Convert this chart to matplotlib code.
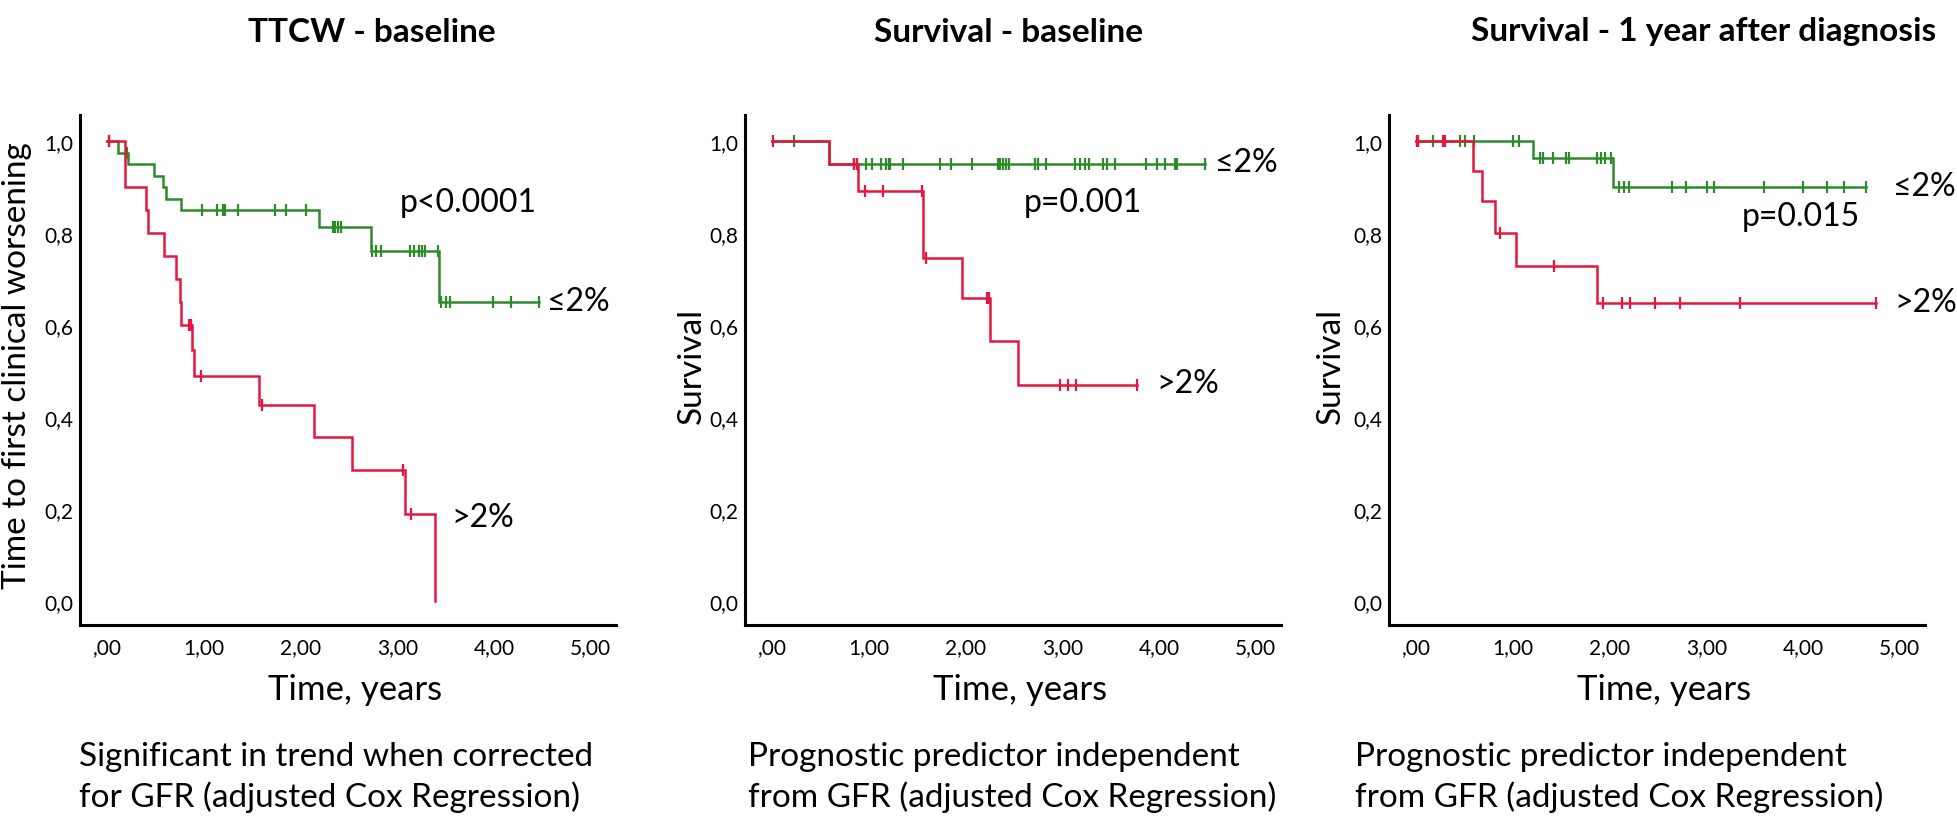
import matplotlib
matplotlib.use("Agg")
import matplotlib.pyplot as plt
import numpy as np

GREEN = "#2e8b2b"
RED = "#e5163f"

# ---- panel 1: TTCW - baseline ----
ttcw_low_times = [0.0, 0.11, 0.22, 0.48, 0.58, 0.61, 0.76, 2.19, 2.73, 3.43]
ttcw_low_surv = [1.0, 0.975, 0.95, 0.925, 0.90, 0.875, 0.85, 0.813, 0.761, 0.651]
ttcw_low_censor = [0.02, 0.21, 0.98, 1.14, 1.20, 1.22, 1.35, 1.74, 1.85, 2.06,
                   2.33, 2.36, 2.39, 2.42, 2.74, 2.78, 2.83, 3.13, 3.17, 3.22,
                   3.26, 3.29, 3.42, 3.45, 3.50, 3.54, 3.99, 4.17, 4.46]
ttcw_low_end = 4.46

ttcw_high_times = [0.0, 0.18, 0.40, 0.42, 0.59, 0.71, 0.75, 0.76, 0.88, 0.90,
                   1.57, 2.14, 2.53, 3.08, 3.39]
ttcw_high_surv = [1.0, 0.90, 0.85, 0.80, 0.75, 0.70, 0.65, 0.60, 0.545, 0.49,
                  0.427, 0.356, 0.284, 0.19, 0.0]
ttcw_high_censor = [0.02, 0.85, 0.87, 0.97, 1.60, 3.06, 3.14]
ttcw_high_end = 3.39

# ---- panel 2: Survival - baseline ----
surv_low_times = [0.0, 0.59]
surv_low_surv = [1.0, 0.951]
surv_low_censor = [0.23, 0.85, 0.88, 0.97, 1.03, 1.13, 1.18, 1.21, 1.22, 1.35,
                   1.74, 1.85, 2.07, 2.33, 2.36, 2.39, 2.42, 2.45, 2.72, 2.75,
                   2.83, 3.13, 3.18, 3.23, 3.28, 3.42, 3.46, 3.54, 3.86, 3.98,
                   4.06, 4.16, 4.18, 4.47]
surv_low_end = 4.47

surv_high_times = [0.0, 0.59, 0.89, 1.56, 1.96, 2.25, 2.54]
surv_high_surv = [1.0, 0.951, 0.891, 0.745, 0.66, 0.565, 0.47]
surv_high_censor = [0.01, 0.85, 0.88, 0.96, 1.15, 1.55, 1.59, 2.22, 2.24,
                    2.98, 3.06, 3.14, 3.77]
surv_high_end = 3.77

# ---- panel 3: Survival - 1 year after diagnosis ----
year1_low_times = [0.0, 1.21, 2.04]
year1_low_surv = [1.0, 0.964, 0.90]
year1_low_censor = [0.01, 0.17, 0.29, 0.45, 0.51, 0.60, 1.0, 1.06, 1.28, 1.31,
                    1.42, 1.55, 1.58, 1.87, 1.91, 1.95, 2.01, 2.10, 2.15, 2.20,
                    2.65, 2.79, 3.01, 3.08, 3.60, 4.0, 4.25, 4.42, 4.65]
year1_low_end = 4.65

year1_high_times = [0.0, 0.59, 0.68, 0.82, 1.03, 1.87]
year1_high_surv = [1.0, 0.935, 0.869, 0.80, 0.729, 0.649]
year1_high_censor = [0.01, 0.02, 0.28, 0.30, 0.87, 1.43, 1.93, 2.13, 2.21,
                     2.47, 2.73, 3.35, 4.75]
year1_high_end = 4.75

titles = ["TTCW - baseline", "Survival - baseline",
          "Survival - 1 year after diagnosis"]
ylabels = ["Time to first clinical worsening", "Survival", "Survival"]
p_values = ["p<0.0001", "p=0.001", "p=0.015"]
captions = [["Significant in trend when corrected", "for GFR (adjusted Cox Regression)"],
            ["Prognostic predictor independent", "from GFR (adjusted Cox Regression)"],
            ["Prognostic predictor independent", "from GFR (adjusted Cox Regression)"]]
x_ticks = [0, 1, 2, 3, 4, 5]
x_tick_labels = [",00", "1,00", "2,00", "3,00", "4,00", "5,00"]
y_ticks = [0.0, 0.2, 0.4, 0.6, 0.8, 1.0]
y_tick_labels = ["0,0", "0,2", "0,4", "0,6", "0,8", "1,0"]

# label placement (data coords): p-value, <=2%, >2%
label_pos = [
    [(3.02, 0.867), (4.55, 0.652), (3.56, 0.183)],
    [(2.60, 0.867), (4.58, 0.954), (3.97, 0.474)],
    [(3.37, 0.837), (4.93, 0.902), (4.94, 0.650)],
]

TEXT_FONT = ["Lato", "DejaVu Sans"]

W, H = 1958, 820


def draw_km(ax, times, surv, censor, end, color):
    xs = list(times) + [end]
    ys = list(surv) + [surv[-1]]
    ax.step(xs, ys, where="post", color=color, lw=1.8, solid_joinstyle="miter")
    t = np.asarray(times)
    idx = np.searchsorted(t, censor, side="right") - 1
    cy = np.asarray(surv)[idx]
    ax.plot(censor, cy, ls="none", marker="|", ms=9, mew=1.6, color=color)


panels = [
    [(ttcw_low_times, ttcw_low_surv, ttcw_low_censor, ttcw_low_end),
     (ttcw_high_times, ttcw_high_surv, ttcw_high_censor, ttcw_high_end)],
    [(surv_low_times, surv_low_surv, surv_low_censor, surv_low_end),
     (surv_high_times, surv_high_surv, surv_high_censor, surv_high_end)],
    [(year1_low_times, year1_low_surv, year1_low_censor, year1_low_end),
     (year1_high_times, year1_high_surv, year1_high_censor, year1_high_end)],
]

fig = plt.figure(figsize=(W / 100, H / 100), dpi=100)

axes_left = [80, 745, 1389]
title_x = [372, 1009, 1704]
ylabel_x = [17, 692, 1331]
caption_x = [79, 748, 1355]
ax_top, ax_bottom, ax_width = 116, 626, 536

for i in range(3):
    ax = fig.add_axes([axes_left[i] / W, (H - ax_bottom) / H,
                       ax_width / W, (ax_bottom - ax_top) / H])
    low, high = panels[i]
    draw_km(ax, *low, GREEN)
    draw_km(ax, *high, RED)

    ax.set_xlim(-0.28, 5.26)
    ax.set_ylim(-0.052, 1.057)
    for side in ("top", "right"):
        ax.spines[side].set_visible(False)
    for side in ("left", "bottom"):
        ax.spines[side].set_linewidth(2.2)
    ax.set_xticks(x_ticks)
    ax.set_xticklabels(x_tick_labels, family=TEXT_FONT, fontsize=15)
    ax.set_yticks(y_ticks)
    ax.set_yticklabels(y_tick_labels, family=TEXT_FONT, fontsize=15)
    ax.tick_params(axis="x", length=0, pad=9)
    ax.tick_params(axis="y", length=0, pad=5)

    (px, py), (gx, gy), (rx, ry) = label_pos[i]
    ax.text(px, py, p_values[i], fontsize=23, family=TEXT_FONT, va="center", ha="left")
    ax.text(gx, gy, "≤2%", fontsize=23, family=TEXT_FONT, va="center", ha="left")
    ax.text(rx, ry, ">2%", fontsize=23, family=TEXT_FONT, va="center", ha="left")

    fig.text(title_x[i] / W, 1 - 32 / H, titles[i], ha="center", va="center",
             fontsize=24, fontweight="bold", family=TEXT_FONT)
    fig.text(ylabel_x[i] / W, 1 - 366 / H, ylabels[i], rotation=90, ha="center",
             va="center", fontsize=24, family=TEXT_FONT)
    fig.text((axes_left[i] + 275) / W, 1 - 690 / H, "Time, years", ha="center",
             va="center", fontsize=25, family=TEXT_FONT)
    for j, line in enumerate(captions[i]):
        fig.text(caption_x[i] / W, 1 - (757 + 40 * j) / H, line, ha="left",
                 va="center", fontsize=24, family=TEXT_FONT)

fig.savefig("out.png", dpi=100, facecolor="white")
